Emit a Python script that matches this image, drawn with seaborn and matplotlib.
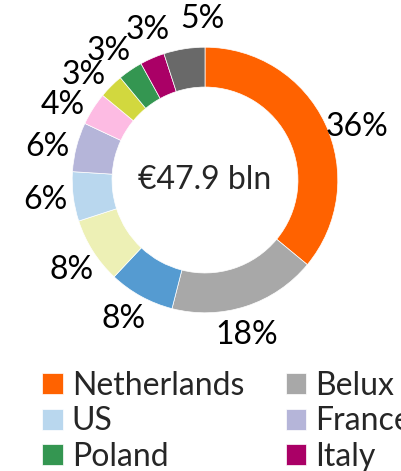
import matplotlib
matplotlib.use("Agg")
import matplotlib.pyplot as plt
import seaborn as sns
import numpy as np

# share of total, clockwise from 12 o'clock
countries = ["Netherlands", "Belux", "Germany", "UK", "US", "France",
             "Spain", "Switzerland", "Poland", "Italy", "Other"]
shares = [36, 18, 8, 8, 6, 6, 4, 3, 3, 3, 5]
colors = ["#FF6200", "#A8A8A8", "#559BD1", "#EDF0B5", "#B9D7EE", "#B5B5D9",
          "#FDBBE3", "#D2D83E", "#349651", "#AA0066", "#696969"]
total_label = "€47.9 bln"
# nudges (degrees) so the small slices' labels don't collide
label_shift = [-6, -3, -1.5, 1.5, 0, 2.5, 4.5, 4, 2.5, -2.5, -8]

sns.set_theme(style="white")
plt.rcParams["font.family"] = ["Lato", "DejaVu Sans"]
fs = 23

fig = plt.figure(figsize=(4.01, 4.71), dpi=100)
ax = fig.add_axes([39 / 401, 125 / 471, 332 / 401, 332 / 471])

wedges, texts, autotexts = ax.pie(
    shares, colors=colors, startangle=90, counterclock=False,
    autopct=lambda p: f"{p:.0f}%", pctdistance=1.21,
    wedgeprops=dict(width=0.3, edgecolor="white", linewidth=0.5),
    textprops=dict(fontsize=fs, color="black"))
ax.set_aspect("equal")
for w, t, s in zip(wedges, autotexts, label_shift):
    ang = np.deg2rad((w.theta1 + w.theta2) / 2 + s)
    t.set_position((1.21 * np.cos(ang), 1.21 * np.sin(ang)))
ax.text(0, 0, total_label, ha="center", va="center", fontsize=fs)

# legend is filled row by row, 4 columns (right part runs off the figure)
ncol = 4
order = []
for c in range(ncol):
    order += list(range(c, len(countries), ncol))
fig.legend([wedges[i] for i in order], [countries[i] for i in order],
           ncol=ncol, loc="upper left", bbox_to_anchor=(42 / 401, 1 - 371 / 471),
           frameon=False, fontsize=fs, handlelength=0.65, handleheight=0.65,
           handletextpad=0.28, columnspacing=1.3, labelspacing=0.17,
           borderpad=0, borderaxespad=0)

fig.savefig("out.png", dpi=100)
